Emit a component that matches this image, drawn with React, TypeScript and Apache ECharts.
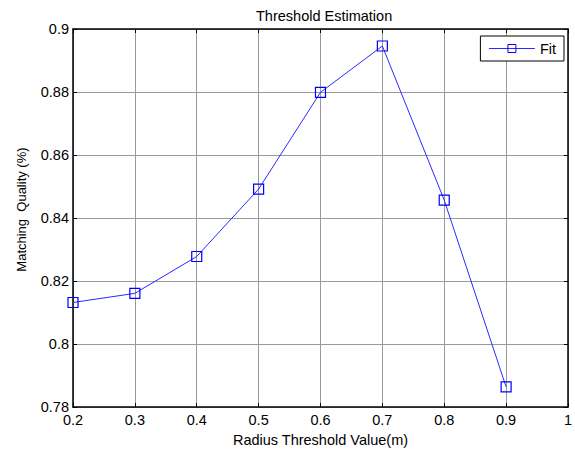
import React, { useEffect, useRef } from "react";
import * as echarts from "echarts";

const radius = [0.2, 0.3, 0.4, 0.5, 0.6, 0.7, 0.8, 0.9];
const quality = [0.8132, 0.8161, 0.8278, 0.8492, 0.8799, 0.8946, 0.8457, 0.7864];
const seriesName = "Fit";
const titleText = "Threshold Estimation";
const xName = "Radius Threshold Value(m)";
const yName = "Matching  Quality (%)";

const FONT = "'Liberation Sans', Arial, sans-serif";
const FS = 14.5;

export default function App() {
  const ref = useRef<HTMLDivElement>(null);
  useEffect(() => {
    if (!ref.current) return;
    const chart = echarts.init(ref.current, undefined, { renderer: "svg" });
    const axisLine = { show: true, onZero: false, lineStyle: { color: "#000", width: 1.5 } };
    const axisTick = { show: true, inside: true, length: 4, lineStyle: { color: "#000", width: 1 } };
    const split = { show: true, lineStyle: { color: "#9a9a9a", width: 1 } };
    const fmt = (v: number) => String(Number(v.toFixed(2)));
    chart.setOption({
      animation: false,
      backgroundColor: "#fff",
      textStyle: { fontFamily: FONT },
      title: {
        text: titleText,
        left: 251,
        top: 3,
        textStyle: { fontFamily: FONT, fontSize: FS, fontWeight: "normal", color: "#000" },
      },
      grid: { left: 73, top: 29, right: 4, bottom: 44, containLabel: false },
      legend: {
        right: 11,
        top: 36,
        data: [seriesName],
        itemWidth: 46,
        itemHeight: 10,
        padding: [5, 8, 5, 8],
        borderColor: "#000",
        borderWidth: 1,
        backgroundColor: "#fff",
        lineStyle: { width: 1 },
        itemStyle: { borderWidth: 1 },
        textStyle: { fontFamily: FONT, fontSize: FS, color: "#000", lineHeight: 15 },
      },
      xAxis: [
        {
          type: "value",
          position: "bottom",
          min: 0.2,
          max: 1,
          interval: 0.1,
          name: xName,
          nameLocation: "middle",
          nameGap: 24,
          nameTextStyle: { fontFamily: FONT, fontSize: FS, color: "#000" },
          axisLine,
          axisTick,
          axisLabel: { color: "#000", fontFamily: FONT, fontSize: FS, margin: 5, formatter: fmt },
          splitLine: split,
        },
        {
          type: "value",
          position: "top",
          min: 0.2,
          max: 1,
          interval: 0.1,
          axisLine,
          axisTick,
          axisLabel: { show: false },
          splitLine: { show: false },
        },
      ],
      yAxis: [
        {
          type: "value",
          position: "left",
          min: 0.78,
          max: 0.9,
          interval: 0.02,
          name: yName,
          nameLocation: "middle",
          nameGap: 45,
          nameTextStyle: { fontFamily: FONT, fontSize: 13, color: "#000", padding: [0, 0, 0, 17] },
          axisLine,
          axisTick,
          axisLabel: { color: "#000", fontFamily: FONT, fontSize: FS, margin: 4, formatter: fmt },
          splitLine: split,
        },
        {
          type: "value",
          position: "right",
          min: 0.78,
          max: 0.9,
          interval: 0.02,
          axisLine,
          axisTick,
          axisLabel: { show: false },
          splitLine: { show: false },
        },
      ],
      series: [
        {
          name: seriesName,
          type: "line",
          data: radius.map((x, i) => [x, quality[i]]),
          symbol: "rect",
          symbolSize: 10,
          showSymbol: true,
          lineStyle: { color: "#2a2aff", width: 1 },
          itemStyle: { color: "rgba(255,255,255,0)", borderColor: "#0000ff", borderWidth: 1.2 },
          emphasis: { disabled: true },
        },
      ],
    });
    return () => chart.dispose();
  }, []);
  return (
    <div
      ref={ref}
      style={{ position: "fixed", left: 0, top: 0, width: 575, height: 452, background: "#fff" }}
    />
  );
}
